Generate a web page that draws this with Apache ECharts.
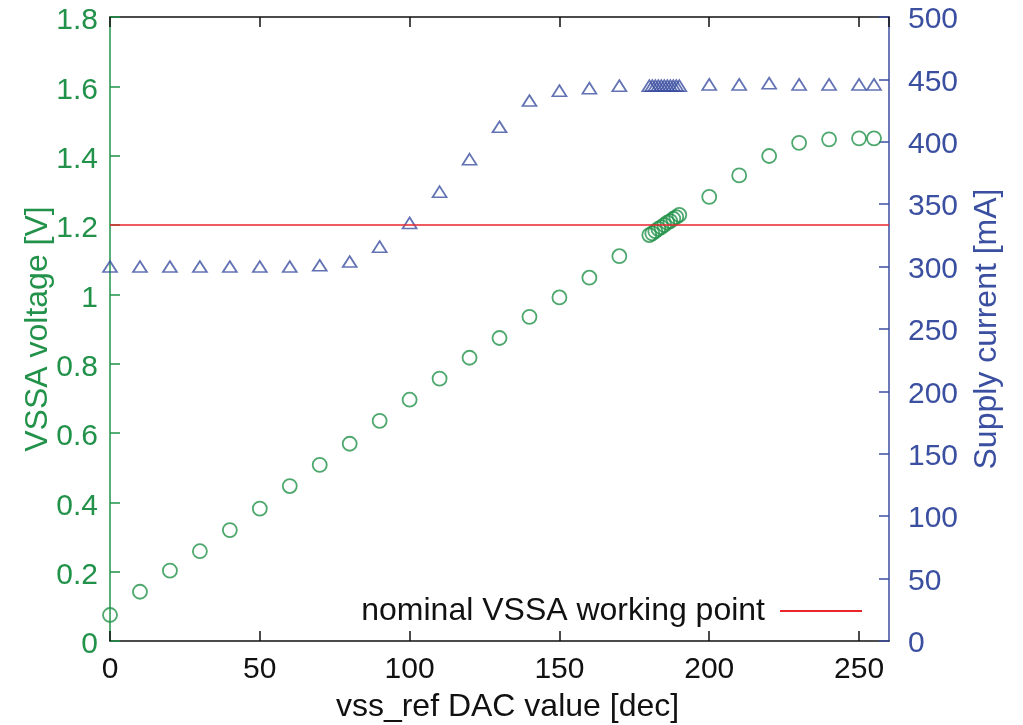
<!DOCTYPE html>
<html>
<head>
<meta charset="utf-8">
<script src="https://cdn.jsdelivr.net/npm/echarts@6/dist/echarts.min.js"></script>
<style>
html,body{margin:0;padding:0;background:#fff;}
#main{width:1023px;height:725px;}
</style>
</head>
<body>
<div id="main"></div>
<script>
// DAC setting values
var dacValues = [0,10,20,30,40,50,60,70,80,90,100,110,120,130,140,150,160,170,
  180,181,182,183,184,185,186,187,188,189,190,200,210,220,230,240,250,255];
// VSSA voltage [V]
var vssaVoltage = [0.075,0.142,0.203,0.259,0.320,0.382,0.447,0.508,0.569,0.635,0.696,0.757,0.817,0.874,0.935,0.991,1.048,1.110,
  1.171,1.176,1.182,1.189,1.194,1.200,1.207,1.211,1.218,1.223,1.229,1.281,1.343,1.399,1.437,1.447,1.450,1.450];
// Supply current [mA]
var supplyCurrent = [300,300,300,300,300,300,300,301,304,316,335,360,386,412,433,441,443,445,
  445,445,445,445,445,445,445,445,445,445,445,446,446,447,446,446,446,446];
// nominal working point [V]
var nominalVoltage = 1.2;
var xRange = [0, 260];
var xTicks = 50, yLeftTicks = 0.2, yRightTicks = 50;

var GREEN = '#22924a', BLUE = '#3b4fa0', RED = '#e8262c', BLACK = '#111';
var FONT = 'Liberation Sans, Arial, Helvetica, sans-serif';
var TICK_FS = 30, NAME_FS = 32;

var voltPts = dacValues.map(function(x,i){return [x, vssaVoltage[i]];});
var currPts = dacValues.map(function(x,i){return [x, supplyCurrent[i]];});

function fmtLeft(v){ return '{a|' + String(Number(v.toFixed(1))) + '}'; }
function fmtRight(v){ return '{a|' + String(Math.round(v)) + '}'; }

var chart = echarts.init(document.getElementById('main'));
chart.setOption({
  animation: false,
  backgroundColor: '#fff',
  textStyle: {fontFamily: FONT},
  grid: {left: 110, right: 134, top: 17, bottom: 84, containLabel: false, outerBoundsMode: 'none'},
  legend: {
    data: [{name: 'nominal VSSA working point', icon: 'rect'}],
    right: 156, top: 590,
    align: 'right',
    itemWidth: 82, itemHeight: 2,
    textStyle: {fontSize: NAME_FS, color: BLACK, fontFamily: FONT, padding: [0, 10, 0, 0]}
  },
  xAxis: [{
    type: 'value', min: xRange[0], max: xRange[1], interval: xTicks,
    position: 'bottom',
    name: 'vss_ref DAC value [dec]', nameLocation: 'middle', nameGap: 50, nameMoveOverlap: false,
    nameTextStyle: {fontSize: NAME_FS, color: BLACK, fontFamily: FONT, padding: [0, 0, 0, 16]},
    axisLine: {show: true, onZero: false, lineStyle: {color: BLACK, width: 1.5}},
    axisTick: {show: true, inside: true, length: 10, lineStyle: {color: BLACK, width: 1.5}},
    axisLabel: {fontSize: TICK_FS, color: BLACK, margin: 14, fontFamily: FONT,
      showMaxLabel: false},
    splitLine: {show: false}
  }, {
    type: 'value', min: xRange[0], max: xRange[1], interval: xTicks,
    position: 'top',
    axisLine: {show: true, onZero: false, lineStyle: {color: BLACK, width: 1.5}},
    axisTick: {show: true, inside: true, length: 10, lineStyle: {color: BLACK, width: 1.5}},
    axisLabel: {show: false},
    splitLine: {show: false}
  }],
  yAxis: [{
    type: 'value', min: 0, max: 1.8, interval: yLeftTicks, position: 'left',
    name: 'VSSA voltage [V]', nameLocation: 'middle', nameGap: 56, nameRotate: 90, nameMoveOverlap: false,
    nameTextStyle: {fontSize: NAME_FS, color: GREEN, fontFamily: FONT},
    axisLine: {show: true, onZero: false, lineStyle: {color: GREEN, width: 1.5}},
    axisTick: {show: true, inside: true, length: 10, lineStyle: {color: GREEN, width: 1.5}},
    axisLabel: {fontSize: TICK_FS, color: GREEN, margin: 12, fontFamily: FONT,
      formatter: fmtLeft,
      rich: {a: {fontSize: TICK_FS, color: GREEN, fontFamily: FONT, padding: [8, 0, 0, 0]}}},
    splitLine: {show: false}
  }, {
    type: 'value', min: 0, max: 500, interval: yRightTicks, position: 'right',
    name: 'Supply current [mA]', nameLocation: 'middle', nameGap: 82, nameRotate: 90, nameMoveOverlap: false,
    nameTextStyle: {fontSize: NAME_FS, color: BLUE, fontFamily: FONT},
    axisLine: {show: true, onZero: false, lineStyle: {color: BLUE, width: 1.5}},
    axisTick: {show: true, inside: true, length: 10, lineStyle: {color: BLUE, width: 1.5}},
    axisLabel: {fontSize: TICK_FS, color: BLUE, margin: 19, fontFamily: FONT,
      formatter: fmtRight,
      rich: {a: {fontSize: TICK_FS, color: BLUE, fontFamily: FONT, padding: [6, 0, 0, 0]}}},
    splitLine: {show: false}
  }],
  series: [{
    name: 'VSSA voltage', type: 'scatter', xAxisIndex: 0, yAxisIndex: 0,
    data: voltPts, symbol: 'circle', symbolSize: 14, clip: false,
    itemStyle: {color: 'rgba(0,0,0,0)', borderColor: GREEN, borderWidth: 1.8},
    emphasis: {disabled: true}
  }, {
    name: 'Supply current', type: 'scatter', xAxisIndex: 0, yAxisIndex: 1,
    data: currPts, symbol: 'triangle', symbolSize: [14, 11], clip: false,
    itemStyle: {color: 'rgba(0,0,0,0)', borderColor: BLUE, borderWidth: 1.7},
    emphasis: {disabled: true}
  }, {
    name: 'nominal VSSA working point', type: 'line', xAxisIndex: 0, yAxisIndex: 0,
    data: [[xRange[0], nominalVoltage], [xRange[1], nominalVoltage]],
    showSymbol: false, symbol: 'none',
    lineStyle: {color: RED, width: 1.5},
    itemStyle: {color: RED},
    emphasis: {disabled: true}
  }]
});
</script>
</body>
</html>
